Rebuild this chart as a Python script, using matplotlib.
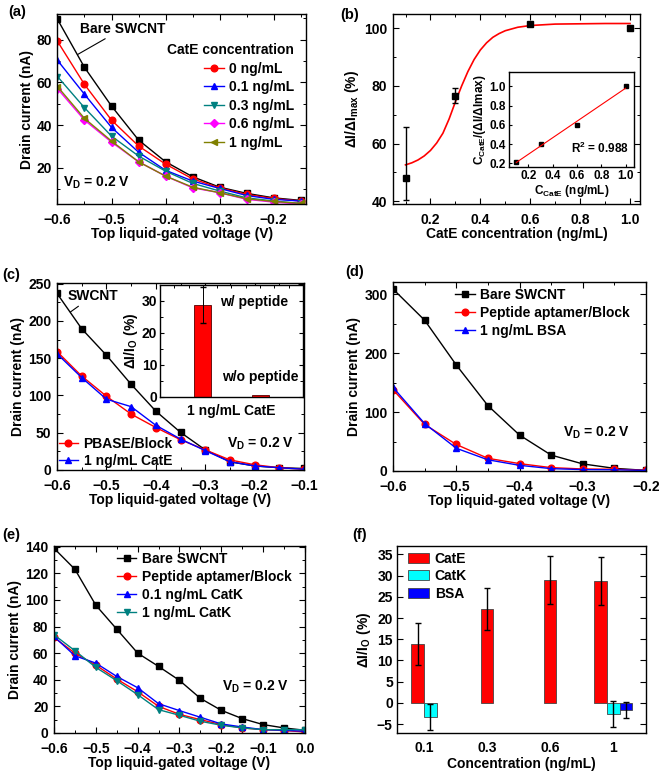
import numpy as np
import matplotlib
matplotlib.use('Agg')
import matplotlib.pyplot as plt
from matplotlib.ticker import AutoMinorLocator, MultipleLocator

plt.rcParams['font.family'] = ['Liberation Sans', 'DejaVu Sans']
plt.rcParams['font.weight'] = 'bold'
plt.rcParams['axes.labelweight'] = 'bold'
plt.rcParams['mathtext.fontset'] = 'custom'
plt.rcParams['mathtext.rm'] = 'Liberation Sans:bold'
plt.rcParams['mathtext.it'] = 'Liberation Sans:bold'
plt.rcParams['mathtext.bf'] = 'Liberation Sans:bold'
plt.rcParams['mathtext.default'] = 'rm'
plt.rcParams['axes.linewidth'] = 1.0

# ---- (a) transfer curves vs CatE concentration
vg_a = [-0.6, -0.55, -0.5, -0.45, -0.4, -0.35, -0.3, -0.25, -0.2, -0.15]
a_bare = [89.5, 67, 48.9, 33, 22.8, 15.8, 10.9, 8, 5.9, 4.7]
a_0 = [79.2, 59, 42.3, 30.2, 21.7, 14.8, 10.6, 7.5, 5.6, 4.4]
a_01 = [70.3, 54.4, 38.9, 27.3, 18.8, 13.8, 10.3, 7, 5.2, 4.4]
a_03 = [62.7, 48.1, 34.8, 25.5, 18.4, 12.7, 9.1, 5.9, 4.4, 3.3]
a_06 = [57, 42.3, 32, 22.8, 16.1, 10.6, 8.3, 5.2, 3.9, 3]
a_1 = [58, 43.1, 32.5, 22.8, 16.1, 10.9, 8.3, 5.5, 4.2, 3.3]

# ---- (b) normalized response + Langmuir inset
conc_b = [0.1, 0.3, 0.6, 1.0]
resp_b = [48.2, 76.6, 101.5, 100.2]
err_lo_b = [7.7, 2.6, 0, 0]
err_hi_b = [17.5, 2.6, 0, 0]
fit_x_b = [0.1, 0.125, 0.15, 0.175, 0.2, 0.225, 0.25, 0.275, 0.3, 0.325, 0.35, 0.375,
           0.4, 0.425, 0.45, 0.475, 0.5, 0.55, 0.6, 0.7, 0.8, 0.9, 1.0]
fit_y_b = [52.6, 53.3, 54.3, 55.7, 57.6, 60.2, 63.6, 68.6, 74.5, 80.0, 85.0, 89.2,
           92.5, 95.0, 96.9, 98.2, 99.2, 100.4, 101.0, 101.5, 101.6, 101.7, 101.7]
ins_y_b = [0.21, 0.40, 0.595, 1.0]

# ---- (c) PBASE control
vg_c = [-0.6, -0.55, -0.5, -0.45, -0.4, -0.35, -0.3, -0.25, -0.2, -0.15, -0.1]
c_bare = [237, 189.5, 154, 115, 79, 50.5, 27, 11, 5.4, 3, 2]
c_block = [159, 126, 99, 75, 57, 40.6, 27, 13.5, 7, 3, 1]
c_cate = [156, 124, 95, 85, 60, 41.5, 26, 11, 5.5, 3, 1]
ins_c_vals = [28.7, 0.5]
ins_c_err = [5.7, 0]

# ---- (d) BSA control
vg_d = [-0.6, -0.55, -0.5, -0.45, -0.4, -0.35, -0.3, -0.25, -0.2]
d_bare = [309, 256, 180, 111, 61, 27, 12, 4.5, 1]
d_block = [138, 79, 45, 21.5, 12.5, 5.7, 3.4, 3, 1]
d_bsa = [142, 80.5, 38.6, 19, 9.6, 4, 2.3, 2, 1]

# ---- (e) CatK control
vg_e = [-0.6, -0.55, -0.5, -0.45, -0.4, -0.35, -0.3, -0.25, -0.2, -0.15, -0.1, -0.05, 0.0]
e_bare = [138.8, 123, 96, 78, 60, 50, 39.5, 26, 17, 10.8, 6.3, 3.8, 2]
e_block = [71.8, 60, 51, 40.5, 31, 20, 14, 10, 6.3, 3.8, 2.5, 1.8, 0.8]
e_catk01 = [72.5, 58, 52.5, 42.5, 34, 22, 16.8, 11.8, 6.8, 4.5, 2.5, 2, 1.3]
e_catk1 = [73.8, 61.8, 49.3, 39.3, 28.8, 17.5, 13.3, 8.8, 5.8, 3.8, 2.5, 2.5, 2.5]

# ---- (f) selectivity bars
f_labels = ['0.1', '0.3', '0.6', '1']
f_cate = [13.9, 22.1, 29.0, 28.7]
f_cate_err = [4.9, 5.0, 5.7, 5.6]
f_catk = [-3.3, None, None, -2.7]
f_catk_err = [3.1, None, None, 3.1]
f_bsa = [None, None, None, -1.6]
f_bsa_err = [None, None, None, 1.9]

TICK = 10
LAB = 10


def style(ax, size=TICK, minor=True):
    if minor:
        ax.xaxis.set_minor_locator(AutoMinorLocator(2))
        ax.yaxis.set_minor_locator(AutoMinorLocator(2))
    ax.tick_params(which='both', direction='in', top=True, right=True, labelsize=size, pad=4)
    ax.tick_params(axis='x', which='both', pad=6.5)
    ax.tick_params(which='major', length=4, width=0.8)
    ax.tick_params(which='minor', length=2, width=0.7)
    for lab in ax.get_xticklabels() + ax.get_yticklabels():
        lab.set_fontweight('bold')


fig = plt.figure(figsize=(6.6, 7.74), dpi=100)

mk = dict(markersize=4.8, linewidth=1.0)

# (a)
ax = fig.add_axes([0.0871, 0.7364, 0.3765, 0.2455])
ax.plot(vg_a, a_bare, 's-', color='black', **mk)
ax.plot(vg_a, a_0, 'o-', color='red', label='0 ng/mL', **mk)
ax.plot(vg_a, a_01, '^-', color='blue', label='0.1 ng/mL', **mk)
ax.plot(vg_a, a_03, 'v-', color='#008080', label='0.3 ng/mL', **mk)
ax.plot(vg_a, a_06, 'D-', color='magenta', label='0.6 ng/mL', markersize=4.2, linewidth=1.0)
ax.plot(vg_a, a_1, '<-', color='#808000', label='1 ng/mL', **mk)
ax.set_xlim(-0.6, -0.14)
ax.set_ylim(3, 92)
ax.xaxis.set_major_locator(MultipleLocator(0.1))
ax.set_yticks([20, 40, 60, 80])
ax.set_xlabel('Top liquid-gated voltage (V)', fontsize=LAB, labelpad=0)
ax.set_ylabel('Drain current (nA)', fontsize=LAB, labelpad=2)
ax.annotate('Bare SWCNT', xy=(-0.563, 73), xytext=(-0.559, 85), fontsize=LAB,
            va='center', arrowprops=dict(arrowstyle='-', lw=0.8, color='black', shrinkA=0, shrinkB=0))
ax.text(-0.59, 13, 'V$_D$ = 0.2 V', fontsize=LAB, va='center')
ax.legend(title='CatE concentration', loc='upper right', bbox_to_anchor=(0.975, 0.875),
          frameon=False, fontsize=LAB, title_fontsize=LAB, alignment='right',
          handlelength=1.4, labelspacing=0.32, handletextpad=0.4, borderaxespad=0)
style(ax)
ax.yaxis.set_minor_locator(MultipleLocator(10))

# (b)
ax = fig.add_axes([0.5955, 0.7364, 0.3742, 0.2455])
ax.plot(fit_x_b, fit_y_b, '-', color='red', lw=1.2)
ax.errorbar(conc_b, resp_b, yerr=[err_lo_b, err_hi_b], fmt='s', color='black',
            markersize=5, capsize=2.5, elinewidth=1.0)
ax.set_xlim(0.05, 1.04)
ax.set_ylim(39, 105)
ax.set_xticks([0.2, 0.4, 0.6, 0.8, 1.0])
ax.set_yticks([40, 60, 80, 100])
ax.set_xlabel('CatE concentration (ng/mL)', fontsize=LAB, labelpad=0)
ax.set_ylabel('ΔI/ΔI$_{max}$ (%)', fontsize=LAB, labelpad=2)
style(ax)

ax = fig.add_axes([0.7712, 0.7842, 0.1894, 0.1227])
ax.plot(conc_b, ins_y_b, 's', color='black', markersize=3)
k, b0 = np.polyfit(conc_b, ins_y_b, 1)
xl = np.array([conc_b[0], conc_b[-1]])
ax.plot(xl, k * xl + b0, '-', color='red', lw=0.8)
ax.set_xlim(0.04, 1.07)
ax.set_ylim(0.16, 1.15)
ax.set_xticks([0.2, 0.4, 0.6, 0.8, 1.0])
ax.set_yticks([0.2, 0.4, 0.6, 0.8, 1.0])
ax.text(0.555, 0.356, 'R$^2$ = 0.988', fontsize=8.5, va='center')
ax.set_xlabel('C$_{CatE}$ (ng/mL)', fontsize=8.5, labelpad=1)
ax.set_ylabel('C$_{CatE}$/(ΔI/ΔImax)', fontsize=8.5, labelpad=1)
style(ax, size=8.5, minor=False)
ax.tick_params(axis='x', pad=2)
ax.tick_params(axis='y', pad=2)
ax.tick_params(which='major', length=2.5, right=False, top=False)

# (c)
ax = fig.add_axes([0.0864, 0.3928, 0.3742, 0.2416])
ax.plot(vg_c, c_bare, 's-', color='black', **mk)
ax.plot(vg_c, c_block, 'o-', color='red', label='PBASE/Block', **mk)
ax.plot(vg_c, c_cate, '^-', color='blue', label='1 ng/mL CatE', **mk)
ax.set_xlim(-0.6, -0.1)
ax.set_ylim(0, 251)
ax.xaxis.set_major_locator(MultipleLocator(0.1))
ax.yaxis.set_major_locator(MultipleLocator(50))
ax.set_xlabel('Top liquid-gated voltage (V)', fontsize=LAB, labelpad=0)
ax.set_ylabel('Drain current (nA)', fontsize=LAB, labelpad=2)
ax.annotate('SWCNT', xy=(-0.573, 212), xytext=(-0.578, 234), fontsize=LAB, va='center',
            arrowprops=dict(arrowstyle='-', lw=0.8, color='black', shrinkA=1, shrinkB=0))
ax.text(-0.256, 35, 'V$_D$ = 0.2 V', fontsize=LAB, va='center')
ax.legend(loc='lower left', bbox_to_anchor=(-0.005, -0.005), frameon=False, fontsize=LAB,
          handlelength=1.4, labelspacing=0.25, handletextpad=0.4, borderaxespad=0, borderpad=0.2)
style(ax)

ax = fig.add_axes([0.2424, 0.4871, 0.2167, 0.1447])
ax.bar([1, 2], ins_c_vals, width=0.3, color='red', edgecolor='#550000', linewidth=0.6)
ax.errorbar([1], ins_c_vals[:1], yerr=ins_c_err[:1], fmt='none', ecolor='black',
            elinewidth=0.7, capsize=2)
ax.set_xlim(0.25, 2.75)
ax.set_ylim(0, 35)
ax.set_yticks([0, 10, 20, 30])
ax.set_xticks([])
ax.xaxis.set_minor_locator(MultipleLocator(0.25))
ax.text(1.3, 29.6, 'w/ peptide', fontsize=LAB, va='center')
ax.text(1.33, 6.3, 'w/o peptide', fontsize=LAB, va='center')
ax.set_xlabel('1 ng/mL CatE', fontsize=LAB, labelpad=3)
ax.set_ylabel('ΔI/I$_O$ (%)', fontsize=LAB, labelpad=1)
ax.tick_params(which='both', direction='in', top=True, right=True, labelsize=TICK, pad=2)
ax.tick_params(which='major', length=3, width=0.8)
ax.tick_params(which='minor', length=2, width=0.7, bottom=False)
ax.yaxis.set_minor_locator(AutoMinorLocator(2))

# (d)
ax = fig.add_axes([0.5955, 0.3915, 0.3833, 0.2442])
ax.plot(vg_d, d_bare, 's-', color='black', label='Bare SWCNT', **mk)
ax.plot(vg_d, d_block, 'o-', color='red', label='Peptide aptamer/Block', **mk)
ax.plot(vg_d, d_bsa, '^-', color='blue', label='1 ng/mL BSA', **mk)
ax.set_xlim(-0.6, -0.2)
ax.set_ylim(0, 321)
ax.xaxis.set_major_locator(MultipleLocator(0.1))
ax.yaxis.set_major_locator(MultipleLocator(100))
ax.set_xlabel('Top liquid-gated voltage (V)', fontsize=LAB, labelpad=0)
ax.set_ylabel('Drain current (nA)', fontsize=LAB, labelpad=2)
ax.text(-0.331, 64, 'V$_D$ = 0.2 V', fontsize=LAB, va='center')
ax.legend(loc='upper left', bbox_to_anchor=(0.235, 0.985), frameon=False, fontsize=LAB,
          handlelength=1.4, labelspacing=0.3, handletextpad=0.4, borderaxespad=0, borderpad=0.2)
style(ax)

# (e)
ax = fig.add_axes([0.0818, 0.0530, 0.3803, 0.2416])
ax.plot(vg_e, e_bare, 's-', color='black', label='Bare SWCNT', **mk)
ax.plot(vg_e, e_block, 'o-', color='red', label='Peptide aptamer/Block', **mk)
ax.plot(vg_e, e_catk01, '^-', color='blue', label='0.1 ng/mL CatK', **mk)
ax.plot(vg_e, e_catk1, 'v-', color='#008080', label='1 ng/mL CatK', **mk)
ax.set_xlim(-0.6, 0.0)
ax.set_ylim(0, 140.5)
ax.xaxis.set_major_locator(MultipleLocator(0.1))
ax.yaxis.set_major_locator(MultipleLocator(20))
ax.set_xlabel('Top liquid-gated voltage (V)', fontsize=LAB, labelpad=0)
ax.set_ylabel('Drain current (nA)', fontsize=LAB, labelpad=2)
ax.text(-0.198, 35, 'V$_D$ = 0.2 V', fontsize=LAB, va='center')
ax.legend(loc='upper left', bbox_to_anchor=(0.24, 0.985), frameon=False, fontsize=LAB,
          handlelength=1.4, labelspacing=0.3, handletextpad=0.4, borderaxespad=0, borderpad=0.2)
style(ax)

# (f)
ax = fig.add_axes([0.6015, 0.0530, 0.3773, 0.2416])
w = 0.2
groups = np.arange(len(f_labels))
series = [(f_cate, f_cate_err, 'red', 'CatE'),
          (f_catk, f_catk_err, 'cyan', 'CatK'),
          (f_bsa, f_bsa_err, 'blue', 'BSA')]
for i, g in enumerate(groups):
    present = [s for s in series if s[0][i] is not None]
    n = len(present)
    for j, (vals, errs, col, name) in enumerate(present):
        xpos = g + (j - (n - 1) / 2) * w
        ax.bar(xpos, vals[i], width=w, color=col, edgecolor='#444444', linewidth=0.6)
        ax.errorbar(xpos, vals[i], yerr=errs[i], fmt='none', ecolor='black',
                    elinewidth=1.0, capsize=2.5)
handles = [plt.Rectangle((0, 0), 1, 1, facecolor=c, edgecolor='#444444', linewidth=0.6)
           for c in ['red', 'cyan', 'blue']]
ax.legend(handles, ['CatE', 'CatK', 'BSA'], loc='upper left', bbox_to_anchor=(0.035, 0.985),
          frameon=False, fontsize=LAB, handlelength=1.5, handleheight=0.7,
          labelspacing=0.25, handletextpad=0.4, borderaxespad=0, borderpad=0.2)
ax.set_xticks(groups)
ax.set_xticklabels(f_labels)
ax.set_xlim(-0.43, 3.52)
ax.set_ylim(-7.1, 37)
ax.set_yticks([-5, 0, 5, 10, 15, 20, 25, 30, 35])
ax.set_xlabel('Concentration (ng/mL)', fontsize=LAB, labelpad=1)
ax.set_ylabel('ΔI/I$_O$ (%)', fontsize=LAB, labelpad=3)
ax.tick_params(which='both', direction='in', right=True, labelsize=TICK, pad=3)
ax.tick_params(axis='x', which='both', bottom=False, top=False, pad=6)
ax.tick_params(which='major', length=4, width=0.8)
for lab in ax.get_xticklabels() + ax.get_yticklabels():
    lab.set_fontweight('bold')

# panel letters
for letter, x, y in [('(a)', 0.012, 0.9845), ('(b)', 0.515, 0.981), ('(c)', 0.003, 0.645),
                     ('(d)', 0.523, 0.6486), ('(e)', 0.003, 0.3088), ('(f)', 0.533, 0.3088)]:
    fig.text(x, y, letter, fontsize=10.5, fontweight='bold', va='center', ha='left')

fig.savefig('out.png', dpi=100)
